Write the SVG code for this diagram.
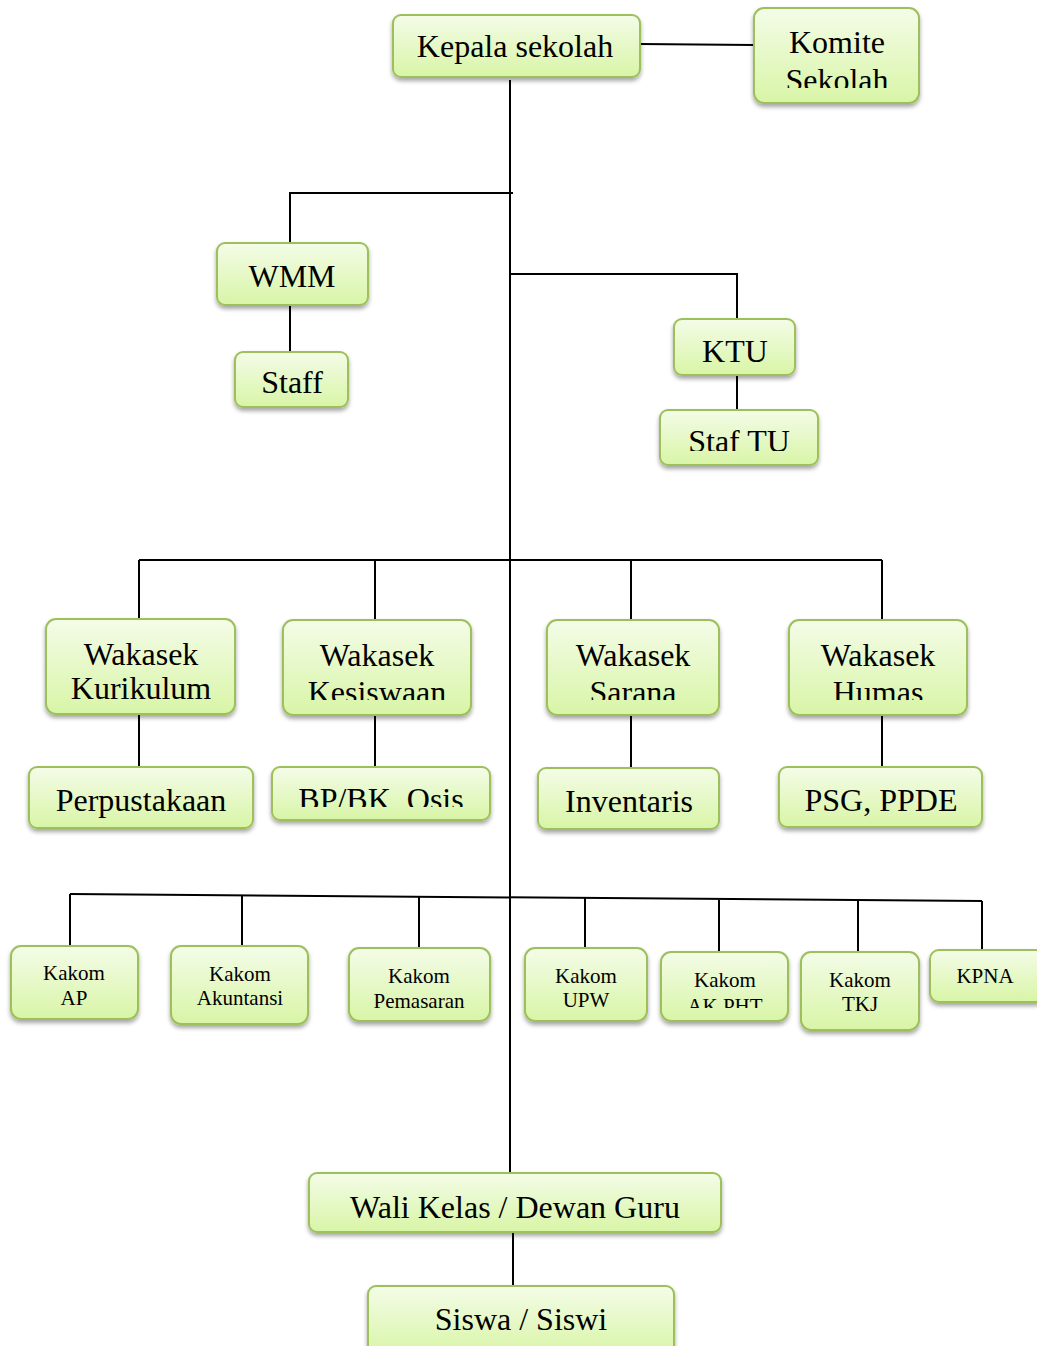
<svg xmlns="http://www.w3.org/2000/svg" width="1037" height="1346" viewBox="0 0 1037 1346">
<defs>
<linearGradient id="g" x1="0" y1="0" x2="0" y2="1">
<stop offset="0" stop-color="#f4fce8"/>
<stop offset="1" stop-color="#d8f5a6"/>
</linearGradient>
<filter id="sh" x="-10%" y="-10%" width="120%" height="130%">
<feDropShadow dx="0" dy="3" stdDeviation="2" flood-color="#000" flood-opacity="0.35"/>
</filter>
<clipPath id="cKomite"><rect x="754" y="8" width="166" height="80"/></clipPath>
<clipPath id="cKes"><rect x="283" y="620" width="189" height="80"/></clipPath>
<clipPath id="cSar"><rect x="547" y="620" width="173" height="80"/></clipPath>
<clipPath id="cHum"><rect x="789" y="620" width="179" height="80"/></clipPath>
<clipPath id="cBP"><rect x="272" y="767" width="219" height="40"/></clipPath>
<clipPath id="cStaf"><rect x="660" y="410" width="159" height="41"/></clipPath>
<clipPath id="cAK"><rect x="661" y="952" width="128" height="56"/></clipPath>
</defs>
<style>
.box{fill:url(#g);stroke:#9dc05a;stroke-width:2;filter:url(#sh)}
.t{font-family:"Liberation Serif","Times New Roman",serif;font-size:32px;fill:#000;text-anchor:middle}
.s{font-family:"Liberation Serif","Times New Roman",serif;font-size:21px;fill:#000;text-anchor:middle}
.ln{stroke:#000;stroke-width:2;fill:none}
</style>
<rect width="1037" height="1346" fill="#fff"/>
<g id="connectors" class="ln">
<line x1="640" y1="44" x2="754" y2="45"/>
<line x1="510" y1="80" x2="510" y2="1173"/>
<polyline points="513,193 290,193 290,243"/>
<line x1="290" y1="305" x2="290" y2="352"/>
<polyline points="510,274 737,274 737,319"/>
<line x1="737" y1="375" x2="737" y2="410"/>
<line x1="139" y1="560" x2="882" y2="560"/>
<line x1="139" y1="560" x2="139" y2="619"/>
<line x1="375" y1="560" x2="375" y2="620"/>
<line x1="631" y1="560" x2="631" y2="620"/>
<line x1="882" y1="560" x2="882" y2="620"/>
<line x1="139" y1="714" x2="139" y2="767"/>
<line x1="375" y1="715" x2="375" y2="767"/>
<line x1="631" y1="715" x2="631" y2="768"/>
<line x1="882" y1="715" x2="882" y2="767"/>
<line x1="70" y1="894" x2="982" y2="901"/>
<line x1="70" y1="894" x2="70" y2="946"/>
<line x1="242" y1="895" x2="242" y2="946"/>
<line x1="419" y1="897" x2="419" y2="948"/>
<line x1="585" y1="898" x2="585" y2="948"/>
<line x1="719" y1="900" x2="719" y2="952"/>
<line x1="858" y1="900" x2="858" y2="952"/>
<line x1="982" y1="901" x2="982" y2="950"/>
<line x1="513" y1="1232" x2="513" y2="1286"/>
</g>
<g id="kepala"><rect class="box" x="393" y="15" width="247" height="62" rx="8"/><text class="t" x="515" y="57">Kepala sekolah</text></g>
<g id="komite"><rect class="box" x="754" y="8" width="165" height="95" rx="10"/><g clip-path="url(#cKomite)"><text class="t" x="837" y="53">Komite</text><text class="t" x="837" y="91">Sekolah</text></g></g>
<g id="wmm"><rect class="box" x="217" y="243" width="151" height="62" rx="8"/><text class="t" x="292" y="287">WMM</text></g>
<g id="staff"><rect class="box" x="235" y="352" width="113" height="55" rx="8"/><text class="t" x="292" y="393">Staff</text></g>
<g id="ktu"><rect class="box" x="674" y="319" width="121" height="56" rx="8"/><text class="t" x="735" y="362">KTU</text></g>
<g id="staftu"><rect class="box" x="660" y="410" width="158" height="55" rx="8"/><g clip-path="url(#cStaf)"><text class="t" x="739" y="452">Staf TU</text></g></g>
<g id="wk-kurikulum"><rect class="box" x="46" y="619" width="189" height="95" rx="10"/><text class="t" x="141" y="665">Wakasek</text><text class="t" x="141" y="699">Kurikulum</text></g>
<g id="wk-kesiswaan"><rect class="box" x="283" y="620" width="188" height="95" rx="10"/><g clip-path="url(#cKes)"><text class="t" x="377" y="666">Wakasek</text><text class="t" x="377" y="703">Kesiswaan</text></g></g>
<g id="wk-sarana"><rect class="box" x="547" y="620" width="172" height="95" rx="10"/><g clip-path="url(#cSar)"><text class="t" x="633" y="666">Wakasek</text><text class="t" x="633" y="703">Sarana</text></g></g>
<g id="wk-humas"><rect class="box" x="789" y="620" width="178" height="95" rx="10"/><g clip-path="url(#cHum)"><text class="t" x="878" y="666">Wakasek</text><text class="t" x="878" y="703">Humas</text></g></g>
<g id="perpustakaan"><rect class="box" x="29" y="767" width="224" height="61" rx="8"/><text class="t" x="141" y="811">Perpustakaan</text></g>
<g id="bpbk"><rect class="box" x="272" y="767" width="218" height="53" rx="8"/><g clip-path="url(#cBP)"><text class="t" x="381" y="810">BP/BK, Osis</text></g></g>
<g id="inventaris"><rect class="box" x="538" y="768" width="181" height="61" rx="8"/><text class="t" x="629" y="812">Inventaris</text></g>
<g id="psg"><rect class="box" x="779" y="767" width="203" height="60" rx="8"/><text class="t" x="881" y="811">PSG, PPDE</text></g>
<g id="kakom-ap"><rect class="box" x="11" y="946" width="127" height="73" rx="10"/><text class="s" x="74" y="980">Kakom</text><text class="s" x="74" y="1005">AP</text></g>
<g id="kakom-akuntansi"><rect class="box" x="171" y="946" width="137" height="78" rx="10"/><text class="s" x="240" y="981">Kakom</text><text class="s" x="240" y="1005">Akuntansi</text></g>
<g id="kakom-pemasaran"><rect class="box" x="349" y="948" width="141" height="73" rx="10"/><text class="s" x="419" y="983">Kakom</text><text class="s" x="419" y="1008">Pemasaran</text></g>
<g id="kakom-upw"><rect class="box" x="525" y="948" width="122" height="73" rx="10"/><text class="s" x="586" y="983">Kakom</text><text class="s" x="586" y="1007">UPW</text></g>
<g id="kakom-akpht"><rect class="box" x="661" y="952" width="127" height="69" rx="10"/><g clip-path="url(#cAK)"><text class="s" x="725" y="987">Kakom</text><text class="s" x="725" y="1013">AK PHT</text></g></g>
<g id="kakom-tkj"><rect class="box" x="801" y="952" width="118" height="78" rx="10"/><text class="s" x="860" y="987">Kakom</text><text class="s" x="860" y="1011">TKJ</text></g>
<g id="kpna"><rect class="box" x="930" y="950" width="115" height="52" rx="9"/><text class="s" x="985" y="983">KPNA</text></g>
<g id="walikelas"><rect class="box" x="309" y="1173" width="412" height="59" rx="8"/><text class="t" x="515" y="1218">Wali Kelas / Dewan Guru</text></g>
<g id="siswa"><rect class="box" x="368" y="1286" width="306" height="70" rx="8"/><text class="t" x="521" y="1330">Siswa / Siswi</text></g>
</svg>
